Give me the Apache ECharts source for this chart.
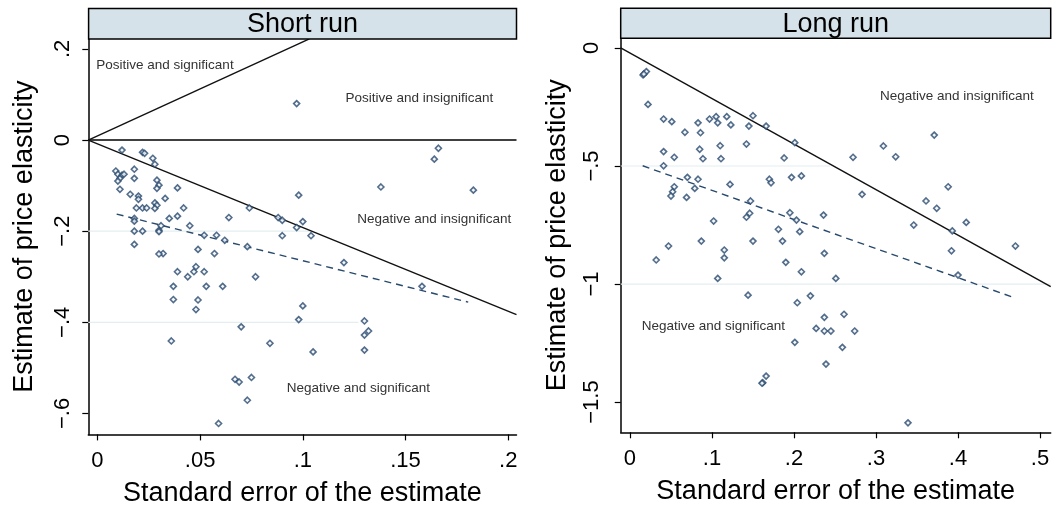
<!DOCTYPE html>
<html>
<head>
<meta charset="utf-8">
<title>Short run / Long run funnel</title>
<script src="https://cdn.jsdelivr.net/npm/echarts@6/dist/echarts.min.js"></script>
<style>
  html, body { margin: 0; padding: 0; background: #fff; }
  #chart { width: 1053px; height: 506px; }
</style>
</head>
<body>
<div id="chart"></div>
<script>
// ---- data ----
// short run: [standard error, estimate]
const shortRunPoints = [
  [0.012, -0.022], [0.022, -0.027], [0.023, -0.029], [0.027, -0.040], [0.028, -0.053],
  [0.009, -0.068], [0.010, -0.075], [0.012, -0.077], [0.013, -0.075], [0.011, -0.084], [0.010, -0.090],
  [0.018, -0.064], [0.018, -0.084], [0.029, -0.088], [0.030, -0.099], [0.029, -0.106], [0.039, -0.105],
  [0.011, -0.108], [0.016, -0.119], [0.020, -0.123], [0.020, -0.130], [0.033, -0.128], [0.028, -0.138],
  [0.029, -0.143], [0.042, -0.149], [0.019, -0.149], [0.022, -0.149], [0.024, -0.149], [0.028, -0.150],
  [0.074, -0.149], [0.018, -0.172], [0.018, -0.178], [0.039, -0.167], [0.035, -0.172], [0.064, -0.170],
  [0.031, -0.188], [0.030, -0.198], [0.045, -0.188], [0.018, -0.200], [0.022, -0.200], [0.030, -0.201],
  [0.052, -0.209], [0.058, -0.209], [0.062, -0.220], [0.073, -0.234], [0.018, -0.229], [0.032, -0.249],
  [0.030, -0.250], [0.049, -0.240], [0.057, -0.249], [0.039, -0.289], [0.044, -0.300], [0.047, -0.289],
  [0.048, -0.278], [0.052, -0.289], [0.077, -0.300], [0.037, -0.321], [0.053, -0.321], [0.061, -0.321],
  [0.037, -0.350], [0.049, -0.351], [0.048, -0.372], [0.100, -0.364], [0.098, -0.394], [0.130, -0.397],
  [0.132, -0.419], [0.130, -0.428], [0.070, -0.410], [0.036, -0.441], [0.084, -0.446], [0.105, -0.465],
  [0.130, -0.461], [0.067, -0.525], [0.069, -0.531], [0.075, -0.521], [0.073, -0.571], [0.059, -0.622],
  [0.166, -0.018], [0.164, -0.042], [0.138, -0.103], [0.183, -0.110], [0.098, -0.121], [0.088, -0.170],
  [0.090, -0.176], [0.100, -0.179], [0.097, -0.192], [0.104, -0.210], [0.090, -0.210], [0.120, -0.269],
  [0.158, -0.321], [0.097, 0.080]
]
// long run
const longRunPoints = [
  [0.016, -0.114], [0.020, -0.100], [0.017, -0.110], [0.022, -0.239], [0.041, -0.301], [0.051, -0.312],
  [0.067, -0.357], [0.083, -0.317], [0.086, -0.359], [0.097, -0.301], [0.105, -0.291], [0.107, -0.317],
  [0.118, -0.291], [0.123, -0.326], [0.150, -0.287], [0.145, -0.331], [0.166, -0.331], [0.201, -0.401],
  [0.041, -0.439], [0.054, -0.463], [0.085, -0.429], [0.110, -0.414], [0.089, -0.469], [0.111, -0.469],
  [0.142, -0.407], [0.188, -0.466], [0.041, -0.499], [0.070, -0.548], [0.083, -0.556], [0.079, -0.595],
  [0.054, -0.588], [0.052, -0.609], [0.050, -0.627], [0.069, -0.633], [0.122, -0.578], [0.170, -0.556],
  [0.172, -0.571], [0.197, -0.548], [0.209, -0.542], [0.147, -0.648], [0.146, -0.700], [0.142, -0.717],
  [0.195, -0.698], [0.203, -0.729], [0.236, -0.708], [0.102, -0.733], [0.181, -0.768], [0.207, -0.778],
  [0.047, -0.839], [0.087, -0.818], [0.032, -0.898], [0.115, -0.856], [0.115, -0.889], [0.150, -0.818],
  [0.186, -0.818], [0.237, -0.870], [0.190, -0.908], [0.209, -0.948], [0.107, -0.976], [0.251, -0.976],
  [0.144, -1.047], [0.220, -1.050], [0.204, -1.079], [0.237, -1.141], [0.261, -1.128], [0.227, -1.188],
  [0.237, -1.199], [0.245, -1.199], [0.274, -1.199], [0.201, -1.247], [0.259, -1.268], [0.239, -1.339],
  [0.166, -1.390], [0.162, -1.418], [0.161, -1.420], [0.339, -1.588], [0.371, -0.369], [0.309, -0.415],
  [0.272, -0.463], [0.324, -0.461], [0.283, -0.620], [0.388, -0.588], [0.361, -0.648], [0.374, -0.679],
  [0.346, -0.750], [0.410, -0.739], [0.393, -0.775], [0.392, -0.859], [0.470, -0.839], [0.400, -0.962]
]

// significance bounds and fitted lines (end points)
const shortUpper = [[-0.0044, 0], [0.1032, 0.222]]
const shortLower = [[-0.0044, 0], [0.204, -0.383]]
const shortFit = [[0.0094, -0.1625], [0.1805, -0.3557]]
const longLower = [[-0.0113, 0], [0.513, -1.011]]
const longFit = [[0.0155, -0.499], [0.4655, -1.054]]

// faint reference lines: [y, x where it stops]
const shortRef = [[-0.2, 0.1036], [-0.4, 0.127]]
const longRef = [[-0.5, 0.244], [-1.0, 0.513]]

// axes
const shortXTicks = [0, 0.05, 0.1, 0.15, 0.2]
const shortXLabels = ['0', '.05', '.1', '.15', '.2']
const shortYTicks = [0.2, 0, -0.2, -0.4, -0.6]
const shortYLabels = ['.2', '0', '\u2212.2', '\u2212.4', '\u2212.6']
const longXTicks = [0, 0.1, 0.2, 0.3, 0.4, 0.5]
const longXLabels = ['0', '.1', '.2', '.3', '.4', '.5']
const longYTicks = [0, -0.5, -1, -1.5]
const longYLabels = ['0', '\u2212.5', '\u22121', '\u22121.5']

const panelTitles = ['Short run', 'Long run']
const xTitle = 'Standard error of the estimate'
const yTitle = 'Estimate of price elasticity'

// ---- styles ----
const FONT = 'Liberation Sans, Arial, sans-serif'
const NAVY = '#28496e'
const STRIP = '#d6e2e9'

const pick = (ticks, labels) => (v) => {
  const i = ticks.findIndex((t) => Math.abs(t - v) < 1e-9)
  return i < 0 ? '' : labels[i]
}

const makeX = (grid, min, max, ticks, labels) => ({
  type: 'value',
  gridIndex: grid,
  min: min,
  max: max,
  axisLine: { onZero: false, lineStyle: { color: '#000', width: 1.5 } },
  axisTick: { customValues: ticks, length: 6, lineStyle: { color: '#000', width: 1.2 } },
  axisLabel: {
    customValues: ticks,
    formatter: pick(ticks, labels),
    fontFamily: FONT,
    fontSize: 22,
    color: '#000',
    margin: 16
  },
  splitLine: { show: false },
  name: xTitle,
  nameLocation: 'middle',
  nameGap: 46,
  nameTextStyle: { fontFamily: FONT, fontSize: 27, color: '#000' }
})

const makeY = (grid, min, max, ticks, labels, margin) => ({
  type: 'value',
  gridIndex: grid,
  min: min,
  max: max,
  axisLine: { onZero: false, lineStyle: { color: '#000', width: 1.5 } },
  axisTick: { customValues: ticks, length: 6, lineStyle: { color: '#000', width: 1.2 } },
  axisLabel: {
    customValues: ticks,
    formatter: pick(ticks, labels),
    rotate: 90,
    fontFamily: FONT,
    fontSize: 22,
    color: '#000',
    margin: margin
  },
  splitLine: { show: false },
  name: yTitle,
  nameLocation: 'middle',
  nameGap: 50,
  nameRotate: 90,
  nameTextStyle: { fontFamily: FONT, fontSize: 27, color: '#000' }
})

const scatter = (idx, pts) => ({
  type: 'scatter',
  xAxisIndex: idx,
  yAxisIndex: idx,
  data: pts,
  symbol: 'diamond',
  symbolSize: 6,
  itemStyle: { color: '#f4f7fa', borderColor: NAVY, borderWidth: 1.6 },
  z: 5
})

const line = (idx, pts, color, type, width) => ({
  type: 'line',
  xAxisIndex: idx,
  yAxisIndex: idx,
  data: pts,
  showSymbol: false,
  clip: true,
  lineStyle: { color: color, type: type, width: width },
  z: 4
})

const refLines = (idx, refs, xmin) =>
  refs.map((r) => line(idx, [[xmin, r[0]], [r[1], r[0]]], '#e4eef1', 'solid', 1.2))

const header = (x, y, w, h, text) => [
  {
    type: 'rect',
    shape: { x: x, y: y, width: w, height: h },
    style: { fill: STRIP, stroke: '#000', lineWidth: 1.5 },
    z: 10
  },
  {
    type: 'text',
    x: x + w / 2,
    y: y + h / 2 + 1,
    style: { text: text, fill: '#000', font: '27px ' + FONT, textAlign: 'center', textVerticalAlign: 'middle' },
    z: 11
  }
]

const note = (x, y, text) => ({
  type: 'text',
  x: x,
  y: y,
  style: { text: text, fill: '#333', font: '13.5px ' + FONT, textAlign: 'left', textVerticalAlign: 'middle' },
  z: 11
})

const chart = echarts.init(document.getElementById('chart'))
chart.setOption({
  animation: false,
  backgroundColor: '#fff',
  grid: [
    { left: 88.3, top: 38.9, width: 428.2, height: 395.5, outerBoundsMode: 'none', containLabel: false },
    { left: 620.7, top: 38.3, width: 430, height: 394, outerBoundsMode: 'none', containLabel: false }
  ],
  xAxis: [
    makeX(0, -0.0044, 0.204, shortXTicks, shortXLabels),
    makeX(1, -0.0113, 0.513, longXTicks, longXLabels)
  ],
  yAxis: [
    makeY(0, -0.646, 0.222, shortYTicks, shortYLabels, 14),
    makeY(1, -1.628, 0.041, longYTicks, longYLabels, 18)
  ],
  series: [
    ...refLines(0, shortRef, -0.0044),
    ...refLines(1, longRef, -0.0113),
    line(0, [[-0.0044, 0], [0.204, 0]], '#000', 'solid', 1.4),
    line(0, shortUpper, '#111', 'solid', 1.4),
    line(0, shortLower, '#111', 'solid', 1.4),
    line(0, shortFit, NAVY, [7, 5], 1.4),
    line(1, longLower, '#111', 'solid', 1.4),
    line(1, longFit, NAVY, [7, 5], 1.4),
    scatter(0, shortRunPoints),
    scatter(1, longRunPoints)
  ],
  graphic: [
    ...header(88.6, 8.5, 427.9, 30.4, panelTitles[0]),
    ...header(620.7, 8.3, 430, 30, panelTitles[1]),
    note(96.3, 65.5, 'Positive and significant'),
    note(345.4, 98, 'Positive and insignificant'),
    note(357.3, 219.7, 'Negative and insignificant'),
    note(286.7, 388.3, 'Negative and significant'),
    note(880, 96.7, 'Negative and insignificant'),
    note(641.7, 326.7, 'Negative and significant')
  ]
})
</script>
</body>
</html>
